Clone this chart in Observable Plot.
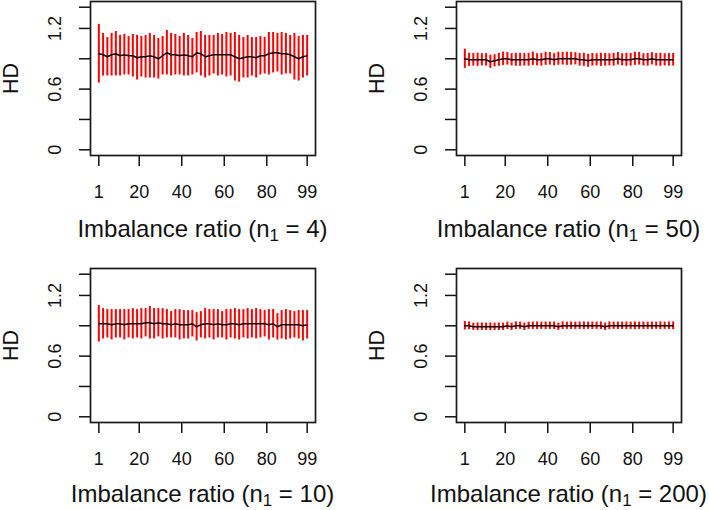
<!DOCTYPE html>
<html><head><meta charset="utf-8">
<script src="https://cdn.jsdelivr.net/npm/d3@7"></script>
<script src="https://cdn.jsdelivr.net/npm/@observablehq/plot@0.6"></script>
<style>
body{margin:0;background:#fff;}
#chart{position:relative;width:709px;height:510px;overflow:hidden;background:#fff;font-family:"Liberation Sans",Arial,Helvetica,sans-serif;color:#111;}
.panel{position:absolute;width:343px;height:243px;}
.panel svg{position:absolute;left:0;top:0;}
.xlab{position:absolute;left:0;width:405px;text-align:center;font-size:24px;line-height:24px;white-space:nowrap;}
.xlab sub{font-size:0.7em;line-height:0;vertical-align:-0.25em;}
</style>
</head><body>
<div id="chart"></div>
<script>
// Imbalance ratios where error bars are drawn
const xValues = [1,3,5,7,9,11,13,15,17,19,21,23,25,27,29,31,33,35,37,39,41,43,45,47,49,
                 51,53,55,57,59,61,63,65,67,69,71,73,75,77,79,81,83,85,87,89,91,93,95,97,99];
const xTicks = [1, 20, 40, 60, 80, 99];
const yTicks = [0, 0.3, 0.6, 0.9, 1.2, 1.41];
const yTickLabels = [0, 0.6, 1.2];
const n1Values = [4, 50, 10, 200];

// n1 = 4
const mean1 = [0.95,0.94,0.92,0.94,0.95, 0.93,0.94,0.93,0.93,0.91, 0.92,0.92,0.93,0.92,0.90,
               0.93,0.96,0.94,0.94,0.93, 0.94,0.93,0.92,0.96,0.95, 0.92,0.93,0.94,0.94,0.94,
               0.94,0.94,0.92,0.90,0.91, 0.92,0.92,0.91,0.93,0.93, 0.95,0.96,0.96,0.95,0.95,
               0.94,0.92,0.90,0.92,0.93];
const sd1   = [0.29,0.21,0.19,0.21,0.22, 0.20,0.20,0.19,0.21,0.22, 0.20,0.21,0.22,0.21,0.20,
               0.19,0.22,0.21,0.20,0.19, 0.21,0.20,0.18,0.20,0.22, 0.21,0.20,0.19,0.21,0.20,
               0.22,0.21,0.24,0.23,0.20, 0.21,0.19,0.20,0.19,0.18, 0.21,0.20,0.19,0.21,0.20,
               0.19,0.23,0.22,0.21,0.20];
// n1 = 50
const mean2 = [0.90,0.89,0.89,0.89,0.89, 0.89,0.87,0.88,0.89,0.90, 0.90,0.89,0.89,0.89,0.89,
               0.89,0.90,0.89,0.89,0.90, 0.90,0.89,0.90,0.90,0.90, 0.90,0.90,0.89,0.89,0.88,
               0.89,0.89,0.89,0.89,0.89, 0.89,0.90,0.89,0.89,0.89, 0.90,0.90,0.89,0.89,0.90,
               0.89,0.89,0.89,0.89,0.89];
const sd2   = [0.095,0.065,0.062,0.065,0.060, 0.062,0.065,0.060,0.064,0.066, 0.062,0.060,0.064,0.065,0.062,
               0.063,0.066,0.060,0.063,0.065, 0.062,0.060,0.064,0.062,0.065, 0.063,0.060,0.062,0.065,0.064,
               0.062,0.060,0.065,0.062,0.060, 0.063,0.062,0.060,0.064,0.062, 0.065,0.062,0.060,0.063,0.061,
               0.062,0.064,0.060,0.063,0.062];
// n1 = 10
const mean3 = [0.92,0.92,0.92,0.91,0.92, 0.92,0.91,0.92,0.92,0.92, 0.92,0.93,0.93,0.92,0.93,
               0.92,0.92,0.91,0.92,0.91, 0.91,0.91,0.92,0.89,0.91, 0.92,0.92,0.91,0.92,0.91,
               0.91,0.92,0.92,0.91,0.92, 0.92,0.92,0.92,0.92,0.92, 0.91,0.92,0.89,0.91,0.91,
               0.91,0.91,0.91,0.90,0.91];
const sd3   = [0.18,0.15,0.14,0.15,0.14, 0.14,0.15,0.14,0.15,0.14, 0.15,0.14,0.16,0.15,0.14,
               0.15,0.14,0.13,0.14,0.15, 0.14,0.14,0.13,0.14,0.13, 0.15,0.14,0.15,0.14,0.13,
               0.15,0.14,0.15,0.15,0.14, 0.15,0.14,0.15,0.14,0.13, 0.15,0.14,0.13,0.14,0.15,
               0.14,0.13,0.14,0.15,0.14];
// n1 = 200
const mean4 = [0.90,0.90,0.89,0.89,0.89, 0.89,0.89,0.89,0.89,0.89, 0.90,0.89,0.90,0.90,0.89,
               0.90,0.90,0.90,0.90,0.90, 0.90,0.90,0.89,0.90,0.90, 0.90,0.90,0.90,0.90,0.90,
               0.90,0.90,0.90,0.89,0.90, 0.90,0.90,0.90,0.90,0.90, 0.90,0.90,0.90,0.90,0.90,
               0.90,0.90,0.90,0.90,0.90];
const sd4   = [0.042,0.038,0.036,0.038,0.037, 0.036,0.038,0.036,0.037,0.036, 0.037,0.036,0.038,0.036,0.037,
               0.036,0.037,0.038,0.036,0.037, 0.036,0.037,0.036,0.038,0.036, 0.037,0.036,0.037,0.038,0.036,
               0.037,0.036,0.037,0.036,0.038, 0.036,0.037,0.036,0.037,0.036, 0.038,0.036,0.037,0.036,0.037,
               0.036,0.038,0.036,0.037,0.038];

const panels = [
  {mean: mean1, sd: sd1, n1: n1Values[0], left: 0,   top: 0,   labTop: 216.7},
  {mean: mean2, sd: sd2, n1: n1Values[1], left: 366, top: 0,   labTop: 216.7},
  {mean: mean3, sd: sd3, n1: n1Values[2], left: 0,   top: 267, labTop: 214.5},
  {mean: mean4, sd: sd4, n1: n1Values[3], left: 366, top: 267, labTop: 214.5}
];

const font = '"Liberation Sans", Arial, Helvetica, sans-serif';
const chart = document.getElementById("chart");

for (const p of panels) {
  const data = xValues.map((x, i) => ({x, mean: p.mean[i], lo: p.mean[i] - p.sd[i], hi: p.mean[i] + p.sd[i]}));
  const svg = Plot.plot({
    width: 343, height: 243,
    marginLeft: 90, marginRight: 28, marginTop: 1, marginBottom: 88,
    style: {fontFamily: font, fontSize: "18px", color: "#111", background: "transparent", overflow: "visible"},
    x: {domain: [-2.92, 102.92]},
    y: {domain: [-0.0564, 1.4664]},
    marks: [
      Plot.axisX({ticks: xTicks, tickSize: 11, tickPadding: 19, strokeWidth: 1.5, fontSize: 18, label: null, tickFormat: d => String(d)}),
      Plot.axisY({ticks: yTicks, tickSize: 11, tickPadding: 18.5, tickRotate: -90, strokeWidth: 1.5, fontSize: 18, label: null,
                  tickFormat: d => yTickLabels.includes(d) ? String(d) : ""}),
      Plot.ruleX(data, {x: "x", y1: "lo", y2: "hi", stroke: "red", strokeWidth: 2}),
      Plot.line(data, {x: "x", y: "mean", stroke: "black", strokeWidth: 1.5}),
      Plot.frame({stroke: "#1a1a1a", strokeWidth: 1.7}),
      Plot.text(["HD"], {text: d => d, frameAnchor: "left", dx: -72.8, rotate: -90, fontSize: 21.5, lineAnchor: "bottom", textAnchor: "middle", fill: "#111"})
    ]
  });
  const div = document.createElement("div");
  div.className = "panel";
  div.style.left = p.left + "px";
  div.style.top = p.top + "px";
  div.appendChild(svg);
  const lab = document.createElement("div");
  lab.className = "xlab";
  lab.style.top = p.labTop + "px";
  lab.innerHTML = "Imbalance ratio (n<sub>1</sub> = " + p.n1 + ")";
  div.appendChild(lab);
  chart.appendChild(div);
}
</script>
</body></html>
